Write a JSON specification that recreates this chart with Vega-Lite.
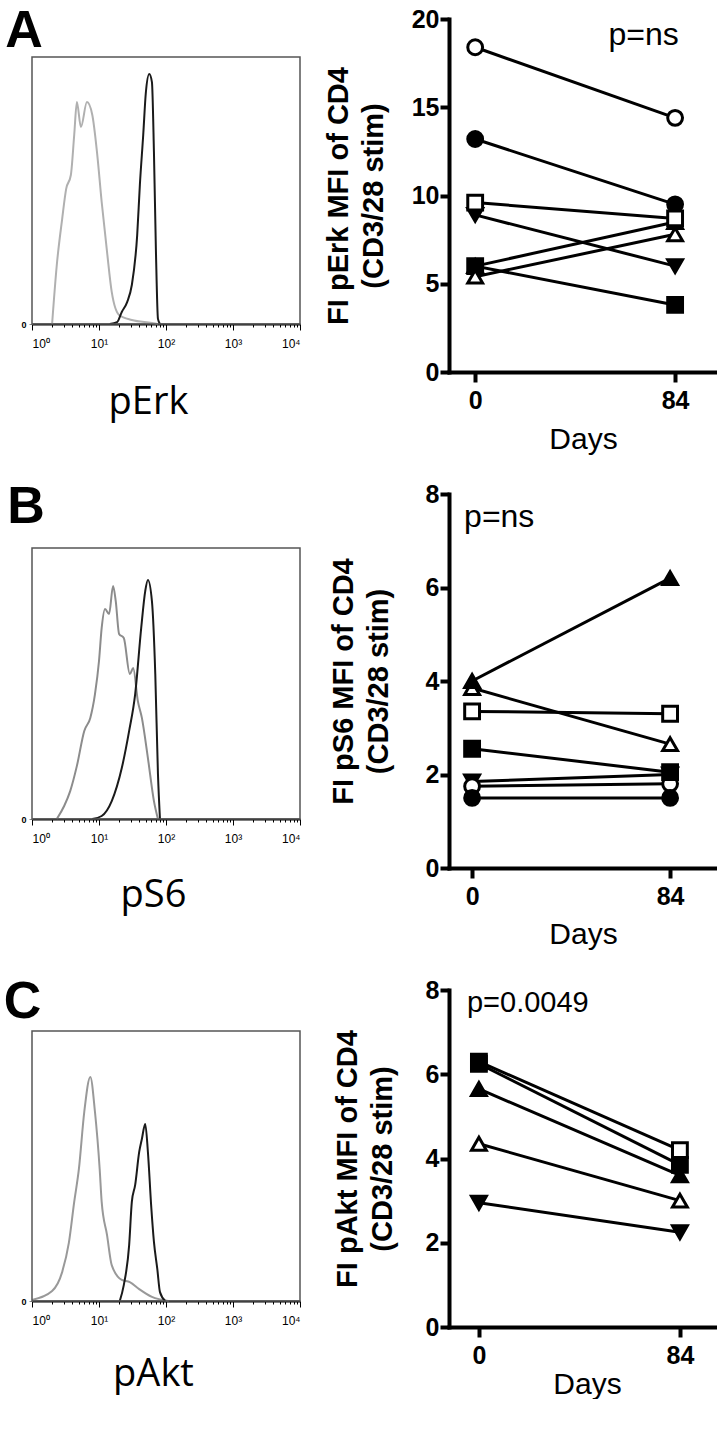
{
  "$schema": "https://vega.github.io/schema/vega-lite/v6.json",
  "autosize": {"type": "pad"},
  "padding": {"left": 3, "top": 5, "right": 0, "bottom": 0},
  "background": "white",
  "config": {
    "view": {"stroke": null},
    "font": "Liberation Sans",
    "axis": {"grid": false}
  },
  "columns": 2,
  "spacing": {"row": 122, "column": 149},
  "bounds": "flush",
  "resolve": {"scale": {"x": "independent", "y": "independent", "color": "independent", "shape": "independent", "fill": "independent"}},
  "concat": [
    {
      "width": 268, "height": 353,
      "resolve": {"axis": {"x": "independent"}},
      "layer": [
        {
          "data": {"values": [
            {"curve": "iso", "logI": 0.30, "count": 0},
            {"curve": "iso", "logI": 0.37, "count": 22.1},
            {"curve": "iso", "logI": 0.45, "count": 39.3},
            {"curve": "iso", "logI": 0.51, "count": 50.6},
            {"curve": "iso", "logI": 0.58, "count": 55.8},
            {"curve": "iso", "logI": 0.63, "count": 70.8},
            {"curve": "iso", "logI": 0.67, "count": 83.1},
            {"curve": "iso", "logI": 0.73, "count": 73.8},
            {"curve": "iso", "logI": 0.82, "count": 83.1},
            {"curve": "iso", "logI": 0.90, "count": 78.3},
            {"curve": "iso", "logI": 0.97, "count": 64.4},
            {"curve": "iso", "logI": 1.04, "count": 45.7},
            {"curve": "iso", "logI": 1.12, "count": 27.0},
            {"curve": "iso", "logI": 1.19, "count": 12.0},
            {"curve": "iso", "logI": 1.30, "count": 3.4},
            {"curve": "iso", "logI": 1.49, "count": 1.5},
            {"curve": "iso", "logI": 1.79, "count": 0.4},
            {"curve": "iso", "logI": 1.88, "count": 0},
            {"curve": "stim", "logI": 1.16, "count": 0},
            {"curve": "stim", "logI": 1.27, "count": 0.7},
            {"curve": "stim", "logI": 1.34, "count": 4.5},
            {"curve": "stim", "logI": 1.42, "count": 8.2},
            {"curve": "stim", "logI": 1.49, "count": 14.6},
            {"curve": "stim", "logI": 1.57, "count": 33.3},
            {"curve": "stim", "logI": 1.61, "count": 52.1},
            {"curve": "stim", "logI": 1.66, "count": 70.8},
            {"curve": "stim", "logI": 1.70, "count": 86.9},
            {"curve": "stim", "logI": 1.75, "count": 93.6},
            {"curve": "stim", "logI": 1.79, "count": 90.6},
            {"curve": "stim", "logI": 1.82, "count": 64.4},
            {"curve": "stim", "logI": 1.85, "count": 27.0},
            {"curve": "stim", "logI": 1.88, "count": 1.9},
            {"curve": "stim", "logI": 1.91, "count": 0}
          ]},
          "mark": {"type": "line", "interpolate": "monotone", "strokeWidth": 2},
          "encoding": {
            "x": {"field": "logI", "type": "quantitative", "scale": {"domain": [0, 4], "nice": false, "zero": false},
              "axis": {"orient": "bottom", "values": [0, 1, 2, 3, 4],
                "labelExpr": "'10' + (datum.value == 0 ? '⁰' : datum.value == 1 ? '¹' : datum.value == 2 ? '²' : datum.value == 3 ? '³' : '⁴')",
                "offset": -48, "labelFlush": true,
                "labelFontSize": 12, "labelPadding": 8, "labelColor": "black",
                "tickColor": "black", "tickSize": 6,
                "domainColor": "black", "domainWidth": 2,
                "title": "pErk", "titleFont": "Open Sans", "titleFontSize": 38, "titleFontWeight": "normal", "titleColor": "black",
                "titleX": 116, "titleY": 78, "titleBaseline": "middle", "titleAlign": "center"}},
            "y": {"field": "count", "type": "quantitative", "scale": {"domain": [0, 100], "nice": false, "range": [305, 38]},
              "axis": {"values": [0], "domain": false, "tickSize": 3, "tickColor": "#888888", "labelFontSize": 9, "labelFontWeight": "bold", "labelPadding": 3, "labelColor": "black", "title": null}},
            "color": {"field": "curve", "type": "nominal", "scale": {"domain": ["iso", "stim"], "range": ["#b0b0b0", "#1a1a1a"]}, "legend": null}
          }
        },
        {
          "data": {"values": [{"x0": 0, "x1": 4, "y0": 0, "y1": 100}]},
          "mark": {"type": "rect", "filled": false, "stroke": "#555555", "strokeWidth": 1.5},
          "encoding": {
            "x": {"field": "x0", "type": "quantitative", "scale": {"domain": [0, 4], "nice": false, "zero": false},
              "axis": {"orient": "bottom", "offset": -48, "values": [0.301, 0.477, 0.602, 0.699, 0.778, 0.845, 0.903, 0.954, 1.301, 1.477, 1.602, 1.699, 1.778, 1.845, 1.903, 1.954, 2.301, 2.477, 2.602, 2.699, 2.778, 2.845, 2.903, 2.954, 3.301, 3.477, 3.602, 3.699, 3.778, 3.845, 3.903, 3.954],
                "labels": false, "domain": false, "tickColor": "black", "tickSize": 3, "title": null}},
            "x2": {"field": "x1"},
            "y": {"field": "y0", "type": "quantitative"},
            "y2": {"field": "y1"}
          }
        },
        {
          "data": {"values": [{"logI": -0.40, "count": 103.7, "label": "A"}]},
          "mark": {"type": "text", "align": "left", "baseline": "alphabetic", "fontSize": 52, "fontWeight": "bold", "color": "black"},
          "encoding": {
            "x": {"field": "logI", "type": "quantitative", "axis": null},
            "y": {"field": "count", "type": "quantitative"},
            "text": {"field": "label"}
          }
        }
      ]
    },
    {
      "width": 268, "height": 353,
      "data": {"values": [
        {"subject": "s6", "day": 0, "value": 6.0}, {"subject": "s6", "day": 84, "value": 8.5},
        {"subject": "s7", "day": 0, "value": 8.9}, {"subject": "s7", "day": 84, "value": 6.0},
        {"subject": "s1", "day": 0, "value": 18.4}, {"subject": "s1", "day": 84, "value": 14.4},
        {"subject": "s2", "day": 0, "value": 13.2}, {"subject": "s2", "day": 84, "value": 9.5},
        {"subject": "s3", "day": 0, "value": 9.6}, {"subject": "s3", "day": 84, "value": 8.7},
        {"subject": "s4", "day": 0, "value": 6.0}, {"subject": "s4", "day": 84, "value": 3.8},
        {"subject": "s5", "day": 0, "value": 5.4}, {"subject": "s5", "day": 84, "value": 7.8}
      ]},
      "layer": [
        {
          "mark": {"type": "line", "color": "black", "strokeWidth": 3},
          "encoding": {
            "x": {"field": "day", "type": "quantitative", "scale": {"domain": [-11, 101.6], "nice": false, "zero": false},
              "axis": {"values": [0, 84], "domainColor": "black", "domainWidth": 4, "domainCap": "square", "tickColor": "black", "tickWidth": 4, "tickSize": 10, "labelFontSize": 25, "labelFontWeight": "bold", "labelColor": "black", "labelPadding": 6,
                "title": "Days", "titleFontSize": 30, "titleFontWeight": "normal", "titleColor": "black", "titleBaseline": "middle", "titleY": 67, "titleX": 134, "titleAlign": "center"}},
            "y": {"field": "value", "type": "quantitative", "scale": {"domain": [0, 20], "nice": false},
              "axis": {"values": [0, 5, 10, 15, 20], "domainColor": "black", "domainWidth": 4, "domainCap": "square", "tickColor": "black", "tickWidth": 4, "tickSize": 9, "labelFontSize": 25, "labelFontWeight": "bold", "labelColor": "black", "labelPadding": 1,
                "title": ["FI pErk MFI of CD4", "(CD3/28 stim)"], "titleFontSize": 29, "titleFontWeight": "bold", "titleColor": "black", "titleAngle": -90, "titleX": -111, "titleY": 176.5, "titleBaseline": "middle", "titleAlign": "center", "titleLineHeight": 35}},
            "detail": {"field": "subject"}
          }
        },
        {
          "mark": {"type": "point", "filled": true, "stroke": "black", "strokeWidth": 3, "opacity": 1, "size": 220},
          "encoding": {
            "x": {"field": "day", "type": "quantitative"},
            "y": {"field": "value", "type": "quantitative"},
            "shape": {"field": "subject", "type": "nominal", "scale": {"domain": ["s1", "s2", "s3", "s4", "s5", "s6", "s7"], "range": ["circle", "circle", "square", "square", "triangle-up", "triangle-up", "triangle-down"]}, "legend": null},
            "fill": {"field": "subject", "type": "nominal", "scale": {"domain": ["s1", "s2", "s3", "s4", "s5", "s6", "s7"], "range": ["white", "black", "white", "black", "white", "black", "black"]}, "legend": null}
          }
        },
        {
          "data": {"values": [{"day": 56, "value": 19.1, "label": "p=ns"}]},
          "mark": {"type": "text", "align": "left", "baseline": "middle", "fontSize": 32, "color": "black"},
          "encoding": {
            "x": {"field": "day", "type": "quantitative"},
            "y": {"field": "value", "type": "quantitative"},
            "text": {"field": "label"}
          }
        }
      ]
    },
    {
      "width": 268, "height": 374,
      "resolve": {"axis": {"x": "independent"}},
      "layer": [
        {
          "data": {"values": [
            {"curve": "iso", "logI": 0.37, "count": 0},
            {"curve": "iso", "logI": 0.48, "count": 4.8},
            {"curve": "iso", "logI": 0.57, "count": 10.3},
            {"curve": "iso", "logI": 0.67, "count": 19.6},
            {"curve": "iso", "logI": 0.78, "count": 32.5},
            {"curve": "iso", "logI": 0.87, "count": 37.3},
            {"curve": "iso", "logI": 0.94, "count": 46.1},
            {"curve": "iso", "logI": 1.00, "count": 58.3},
            {"curve": "iso", "logI": 1.04, "count": 70.5},
            {"curve": "iso", "logI": 1.09, "count": 77.5},
            {"curve": "iso", "logI": 1.15, "count": 75.6},
            {"curve": "iso", "logI": 1.21, "count": 86.0},
            {"curve": "iso", "logI": 1.25, "count": 80.4},
            {"curve": "iso", "logI": 1.30, "count": 68.3},
            {"curve": "iso", "logI": 1.37, "count": 66.8},
            {"curve": "iso", "logI": 1.46, "count": 53.5},
            {"curve": "iso", "logI": 1.51, "count": 55.7},
            {"curve": "iso", "logI": 1.58, "count": 43.5},
            {"curve": "iso", "logI": 1.64, "count": 37.3},
            {"curve": "iso", "logI": 1.73, "count": 22.5},
            {"curve": "iso", "logI": 1.82, "count": 6.6},
            {"curve": "iso", "logI": 1.88, "count": 0},
            {"curve": "stim", "logI": 0.90, "count": 0},
            {"curve": "stim", "logI": 1.04, "count": 1.1},
            {"curve": "stim", "logI": 1.19, "count": 6.6},
            {"curve": "stim", "logI": 1.34, "count": 18.8},
            {"curve": "stim", "logI": 1.45, "count": 32.5},
            {"curve": "stim", "logI": 1.54, "count": 46.1},
            {"curve": "stim", "logI": 1.63, "count": 70.5},
            {"curve": "stim", "logI": 1.69, "count": 84.1},
            {"curve": "stim", "logI": 1.73, "count": 88.2},
            {"curve": "stim", "logI": 1.79, "count": 80.4},
            {"curve": "stim", "logI": 1.84, "count": 53.5},
            {"curve": "stim", "logI": 1.88, "count": 16.6},
            {"curve": "stim", "logI": 1.91, "count": 0}
          ]},
          "mark": {"type": "line", "interpolate": "monotone", "strokeWidth": 2},
          "encoding": {
            "x": {"field": "logI", "type": "quantitative", "scale": {"domain": [0, 4], "nice": false, "zero": false},
              "axis": {"orient": "bottom", "values": [0, 1, 2, 3, 4],
                "labelExpr": "'10' + (datum.value == 0 ? '⁰' : datum.value == 1 ? '¹' : datum.value == 2 ? '²' : datum.value == 3 ? '³' : '⁴')",
                "offset": -49, "labelFlush": true,
                "labelFontSize": 12, "labelPadding": 8, "labelColor": "black",
                "tickColor": "black", "tickSize": 6,
                "domainColor": "black", "domainWidth": 2,
                "title": "pS6", "titleFont": "Open Sans", "titleFontSize": 38, "titleFontWeight": "normal", "titleColor": "black",
                "titleX": 121, "titleY": 76, "titleBaseline": "middle", "titleAlign": "center"}},
            "y": {"field": "count", "type": "quantitative", "scale": {"domain": [0, 100], "nice": false, "range": [325, 54]},
              "axis": {"values": [0], "domain": false, "tickSize": 3, "tickColor": "#888888", "labelFontSize": 9, "labelFontWeight": "bold", "labelPadding": 3, "labelColor": "black", "title": null}},
            "color": {"field": "curve", "type": "nominal", "scale": {"domain": ["iso", "stim"], "range": ["#8c8c8c", "#1a1a1a"]}, "legend": null}
          }
        },
        {
          "data": {"values": [{"x0": 0, "x1": 4, "y0": 0, "y1": 100}]},
          "mark": {"type": "rect", "filled": false, "stroke": "#555555", "strokeWidth": 1.5},
          "encoding": {
            "x": {"field": "x0", "type": "quantitative", "scale": {"domain": [0, 4], "nice": false, "zero": false},
              "axis": {"orient": "bottom", "offset": -49, "values": [0.301, 0.477, 0.602, 0.699, 0.778, 0.845, 0.903, 0.954, 1.301, 1.477, 1.602, 1.699, 1.778, 1.845, 1.903, 1.954, 2.301, 2.477, 2.602, 2.699, 2.778, 2.845, 2.903, 2.954, 3.301, 3.477, 3.602, 3.699, 3.778, 3.845, 3.903, 3.954],
                "labels": false, "domain": false, "tickColor": "black", "tickSize": 3, "title": null}},
            "x2": {"field": "x1"},
            "y": {"field": "y0", "type": "quantitative"},
            "y2": {"field": "y1"}
          }
        },
        {
          "data": {"values": [{"logI": -0.37, "count": 109.2, "label": "B"}]},
          "mark": {"type": "text", "align": "left", "baseline": "alphabetic", "fontSize": 52, "fontWeight": "bold", "color": "black"},
          "encoding": {
            "x": {"field": "logI", "type": "quantitative", "axis": null},
            "y": {"field": "count", "type": "quantitative"},
            "text": {"field": "label"}
          }
        }
      ]
    },
    {
      "width": 268, "height": 374,
      "data": {"values": [
        {"subject": "s7", "day": 0, "value": 1.85}, {"subject": "s7", "day": 84, "value": 2.0},
        {"subject": "s1", "day": 0, "value": 1.75}, {"subject": "s1", "day": 84, "value": 1.8},
        {"subject": "s2", "day": 0, "value": 1.5}, {"subject": "s2", "day": 84, "value": 1.5},
        {"subject": "s4", "day": 0, "value": 2.55}, {"subject": "s4", "day": 84, "value": 2.05},
        {"subject": "s3", "day": 0, "value": 3.35}, {"subject": "s3", "day": 84, "value": 3.3},
        {"subject": "s5", "day": 0, "value": 3.85}, {"subject": "s5", "day": 84, "value": 2.65},
        {"subject": "s6", "day": 0, "value": 4.0}, {"subject": "s6", "day": 84, "value": 6.2}
      ]},
      "layer": [
        {
          "mark": {"type": "line", "color": "black", "strokeWidth": 3},
          "encoding": {
            "x": {"field": "day", "type": "quantitative", "scale": {"domain": [-9.8, 103.9], "nice": false, "zero": false},
              "axis": {"values": [0, 84], "domainColor": "black", "domainWidth": 4, "domainCap": "square", "tickColor": "black", "tickWidth": 4, "tickSize": 10, "labelFontSize": 25, "labelFontWeight": "bold", "labelColor": "black", "labelPadding": 6,
                "title": "Days", "titleFontSize": 30, "titleFontWeight": "normal", "titleColor": "black", "titleBaseline": "middle", "titleY": 66, "titleX": 134, "titleAlign": "center"}},
            "y": {"field": "value", "type": "quantitative", "scale": {"domain": [0, 8], "nice": false},
              "axis": {"values": [0, 2, 4, 6, 8], "domainColor": "black", "domainWidth": 4, "domainCap": "square", "tickColor": "black", "tickWidth": 4, "tickSize": 9, "labelFontSize": 25, "labelFontWeight": "bold", "labelColor": "black", "labelPadding": 1,
                "title": ["FI pS6 MFI of CD4", "(CD3/28 stim)"], "titleFontSize": 29, "titleFontWeight": "bold", "titleColor": "black", "titleAngle": -90, "titleX": -106, "titleY": 187, "titleBaseline": "middle", "titleAlign": "center", "titleLineHeight": 35}},
            "detail": {"field": "subject"}
          }
        },
        {
          "mark": {"type": "point", "filled": true, "stroke": "black", "strokeWidth": 3, "opacity": 1, "size": 220},
          "encoding": {
            "x": {"field": "day", "type": "quantitative"},
            "y": {"field": "value", "type": "quantitative"},
            "shape": {"field": "subject", "type": "nominal", "scale": {"domain": ["s1", "s2", "s3", "s4", "s5", "s6", "s7"], "range": ["circle", "circle", "square", "square", "triangle-up", "triangle-up", "triangle-down"]}, "legend": null},
            "fill": {"field": "subject", "type": "nominal", "scale": {"domain": ["s1", "s2", "s3", "s4", "s5", "s6", "s7"], "range": ["white", "black", "white", "black", "white", "black", "black"]}, "legend": null}
          }
        },
        {
          "data": {"values": [{"day": -3.4, "value": 7.5, "label": "p=ns"}]},
          "mark": {"type": "text", "align": "left", "baseline": "middle", "fontSize": 32, "color": "black"},
          "encoding": {
            "x": {"field": "day", "type": "quantitative"},
            "y": {"field": "value", "type": "quantitative"},
            "text": {"field": "label"}
          }
        }
      ]
    },
    {
      "width": 268, "height": 337,
      "resolve": {"axis": {"x": "independent"}},
      "layer": [
        {
          "data": {"values": [
            {"curve": "iso", "logI": 0.0, "count": 0.4},
            {"curve": "iso", "logI": 0.30, "count": 3.7},
            {"curve": "iso", "logI": 0.45, "count": 10.7},
            {"curve": "iso", "logI": 0.55, "count": 21.5},
            {"curve": "iso", "logI": 0.63, "count": 36.7},
            {"curve": "iso", "logI": 0.70, "count": 48.9},
            {"curve": "iso", "logI": 0.78, "count": 70.0},
            {"curve": "iso", "logI": 0.87, "count": 83.0},
            {"curve": "iso", "logI": 0.94, "count": 70.0},
            {"curve": "iso", "logI": 1.01, "count": 48.9},
            {"curve": "iso", "logI": 1.04, "count": 36.7},
            {"curve": "iso", "logI": 1.12, "count": 24.4},
            {"curve": "iso", "logI": 1.19, "count": 13.3},
            {"curve": "iso", "logI": 1.34, "count": 7.8},
            {"curve": "iso", "logI": 1.46, "count": 7.0},
            {"curve": "iso", "logI": 1.60, "count": 4.4},
            {"curve": "iso", "logI": 1.79, "count": 1.5},
            {"curve": "iso", "logI": 2.04, "count": 0},
            {"curve": "stim", "logI": 1.31, "count": 0},
            {"curve": "stim", "logI": 1.37, "count": 5.9},
            {"curve": "stim", "logI": 1.45, "count": 20.7},
            {"curve": "stim", "logI": 1.49, "count": 36.7},
            {"curve": "stim", "logI": 1.54, "count": 43.0},
            {"curve": "stim", "logI": 1.60, "count": 55.2},
            {"curve": "stim", "logI": 1.64, "count": 60.0},
            {"curve": "stim", "logI": 1.69, "count": 65.6},
            {"curve": "stim", "logI": 1.73, "count": 55.2},
            {"curve": "stim", "logI": 1.78, "count": 34.8},
            {"curve": "stim", "logI": 1.82, "count": 21.9},
            {"curve": "stim", "logI": 1.87, "count": 11.9},
            {"curve": "stim", "logI": 1.91, "count": 3.3},
            {"curve": "stim", "logI": 1.99, "count": 0}
          ]},
          "mark": {"type": "line", "interpolate": "monotone", "strokeWidth": 2},
          "encoding": {
            "x": {"field": "logI", "type": "quantitative", "scale": {"domain": [0, 4], "nice": false, "zero": false},
              "axis": {"orient": "bottom", "values": [0, 1, 2, 3, 4],
                "labelExpr": "'10' + (datum.value == 0 ? '⁰' : datum.value == 1 ? '¹' : datum.value == 2 ? '²' : datum.value == 3 ? '³' : '⁴')",
                "offset": -26, "labelFlush": true,
                "labelFontSize": 12, "labelPadding": 8, "labelColor": "black",
                "tickColor": "black", "tickSize": 6,
                "domainColor": "black", "domainWidth": 2,
                "title": "pAkt", "titleFont": "Open Sans", "titleFontSize": 38, "titleFontWeight": "normal", "titleColor": "black",
                "titleX": 121, "titleY": 73, "titleBaseline": "middle", "titleAlign": "center"}},
            "y": {"field": "count", "type": "quantitative", "scale": {"domain": [0, 100], "nice": false, "range": [311, 41]},
              "axis": {"values": [0], "domain": false, "tickSize": 3, "tickColor": "#888888", "labelFontSize": 9, "labelFontWeight": "bold", "labelPadding": 3, "labelColor": "black", "title": null}},
            "color": {"field": "curve", "type": "nominal", "scale": {"domain": ["iso", "stim"], "range": ["#999999", "#1a1a1a"]}, "legend": null}
          }
        },
        {
          "data": {"values": [{"x0": 0, "x1": 4, "y0": 0, "y1": 100}]},
          "mark": {"type": "rect", "filled": false, "stroke": "#555555", "strokeWidth": 1.5},
          "encoding": {
            "x": {"field": "x0", "type": "quantitative", "scale": {"domain": [0, 4], "nice": false, "zero": false},
              "axis": {"orient": "bottom", "offset": -26, "values": [0.301, 0.477, 0.602, 0.699, 0.778, 0.845, 0.903, 0.954, 1.301, 1.477, 1.602, 1.699, 1.778, 1.845, 1.903, 1.954, 2.301, 2.477, 2.602, 2.699, 2.778, 2.845, 2.903, 2.954, 3.301, 3.477, 3.602, 3.699, 3.778, 3.845, 3.903, 3.954],
                "labels": false, "domain": false, "tickColor": "black", "tickSize": 3, "title": null}},
            "x2": {"field": "x1"},
            "y": {"field": "y0", "type": "quantitative"},
            "y2": {"field": "y1"}
          }
        },
        {
          "data": {"values": [{"logI": -0.42, "count": 104.8, "label": "C"}]},
          "mark": {"type": "text", "align": "left", "baseline": "alphabetic", "fontSize": 52, "fontWeight": "bold", "color": "black"},
          "encoding": {
            "x": {"field": "logI", "type": "quantitative", "axis": null},
            "y": {"field": "count", "type": "quantitative"},
            "text": {"field": "label"}
          }
        }
      ]
    },
    {
      "width": 268, "height": 337,
      "data": {"values": [
        {"subject": "s3", "day": 0, "value": 6.3}, {"subject": "s3", "day": 84, "value": 4.2},
        {"subject": "s4", "day": 0, "value": 6.25}, {"subject": "s4", "day": 84, "value": 3.85},
        {"subject": "s6", "day": 0, "value": 5.65}, {"subject": "s6", "day": 84, "value": 3.6},
        {"subject": "s5", "day": 0, "value": 4.35}, {"subject": "s5", "day": 84, "value": 3.0},
        {"subject": "s7", "day": 0, "value": 2.95}, {"subject": "s7", "day": 84, "value": 2.25}
      ]},
      "layer": [
        {
          "mark": {"type": "line", "color": "black", "strokeWidth": 3},
          "encoding": {
            "x": {"field": "day", "type": "quantitative", "scale": {"domain": [-12.5, 99.5], "nice": false, "zero": false},
              "axis": {"values": [0, 84], "domainColor": "black", "domainWidth": 4, "domainCap": "square", "tickColor": "black", "tickWidth": 4, "tickSize": 10, "labelFontSize": 25, "labelFontWeight": "bold", "labelColor": "black", "labelPadding": 6,
                "title": "Days", "titleFontSize": 30, "titleFontWeight": "normal", "titleColor": "black", "titleBaseline": "middle", "titleY": 57, "titleX": 138, "titleAlign": "center"}},
            "y": {"field": "value", "type": "quantitative", "scale": {"domain": [0, 8], "nice": false},
              "axis": {"values": [0, 2, 4, 6, 8], "domainColor": "black", "domainWidth": 4, "domainCap": "square", "tickColor": "black", "tickWidth": 4, "tickSize": 9, "labelFontSize": 25, "labelFontWeight": "bold", "labelColor": "black", "labelPadding": 1,
                "title": ["FI pAkt MFI of CD4", "(CD3/28 stim)"], "titleFontSize": 29, "titleFontWeight": "bold", "titleColor": "black", "titleAngle": -90, "titleX": -102, "titleY": 168.5, "titleBaseline": "middle", "titleAlign": "center", "titleLineHeight": 35}},
            "detail": {"field": "subject"}
          }
        },
        {
          "mark": {"type": "point", "filled": true, "stroke": "black", "strokeWidth": 3, "opacity": 1, "size": 220},
          "encoding": {
            "x": {"field": "day", "type": "quantitative"},
            "y": {"field": "value", "type": "quantitative"},
            "shape": {"field": "subject", "type": "nominal", "scale": {"domain": ["s1", "s2", "s3", "s4", "s5", "s6", "s7"], "range": ["circle", "circle", "square", "square", "triangle-up", "triangle-up", "triangle-down"]}, "legend": null},
            "fill": {"field": "subject", "type": "nominal", "scale": {"domain": ["s1", "s2", "s3", "s4", "s5", "s6", "s7"], "range": ["white", "black", "white", "black", "white", "black", "black"]}, "legend": null}
          }
        },
        {
          "data": {"values": [{"day": -5, "value": 7.7, "label": "p=0.0049"}]},
          "mark": {"type": "text", "align": "left", "baseline": "middle", "fontSize": 29, "color": "black"},
          "encoding": {
            "x": {"field": "day", "type": "quantitative"},
            "y": {"field": "value", "type": "quantitative"},
            "text": {"field": "label"}
          }
        }
      ]
    }
  ]
}
